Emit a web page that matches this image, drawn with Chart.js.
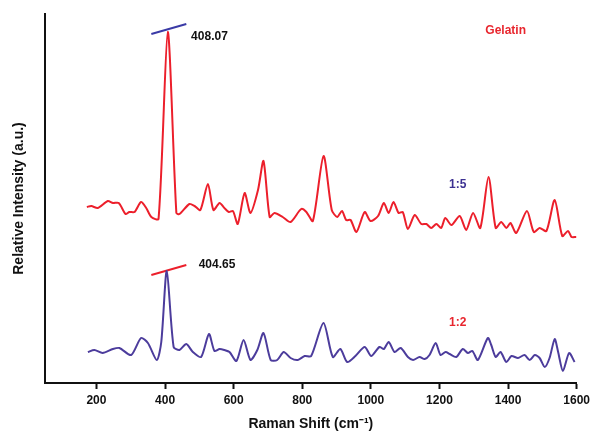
<!DOCTYPE html>
<html>
<head>
<meta charset="utf-8">
<script src="https://cdn.jsdelivr.net/npm/chart.js@4/dist/chart.umd.min.js"></script>
<style>
  html, body { margin: 0; padding: 0; background: #fff; }
  #wrap { width: 594px; height: 439px; }
</style>
</head>
<body>
<div id="wrap"><canvas id="raman"></canvas></div>
<script>
// Raman shift (cm-1) and relative intensity (a.u.)
const gelatinShift = [172, 185, 204, 233, 248, 265, 285, 296, 311, 330, 345, 360, 381, 408, 433, 442, 471, 486, 503, 525, 541, 559, 573, 586, 598, 612, 632, 649, 671, 687, 705, 719, 743, 766, 797, 812, 831, 862, 886, 902, 916, 928, 941, 958, 982, 999, 1021, 1038, 1052, 1066, 1081, 1093, 1108, 1128, 1147, 1162, 1176, 1191, 1205, 1217, 1235, 1259, 1278, 1298, 1319, 1343, 1364, 1380, 1395, 1407, 1424, 1455, 1475, 1492, 1512, 1536, 1558, 1575, 1585, 1599];
const gelatinIntensity = [176, 177, 175, 182, 180, 180, 169, 171, 171, 181, 175, 166, 164, 351, 170, 169, 179, 177, 173, 199, 173, 180, 175, 171, 172, 159, 190, 170, 193, 222, 166, 170, 166, 161, 174, 171, 162, 227, 173, 166, 172, 163, 163, 151, 171, 162, 167, 180, 170, 181, 170, 171, 154, 168, 159, 159, 155, 159, 155, 165, 158, 167, 153, 170, 155, 206, 155, 161, 155, 160, 150, 172, 151, 155, 152, 183, 147, 152, 146, 146];

const mixShift = [175, 194, 218, 248, 267, 301, 330, 350, 376, 389, 405, 425, 442, 462, 481, 505, 528, 544, 559, 573, 588, 608, 629, 649, 669, 687, 708, 727, 746, 766, 787, 807, 826, 862, 889, 911, 931, 955, 982, 1001, 1025, 1038, 1052, 1069, 1087, 1108, 1123, 1142, 1157, 1171, 1189, 1203, 1218, 1230, 1249, 1268, 1283, 1296, 1312, 1341, 1351, 1364, 1378, 1395, 1410, 1429, 1448, 1463, 1478, 1492, 1507, 1521, 1536, 1546, 1560, 1578, 1594];
const mixIntensity = [31, 33, 30, 34, 35, 28, 45, 40, 23, 41, 112, 36, 33, 39, 31, 26, 49, 32, 34, 33, 31, 22, 43, 23, 33, 50, 23, 23, 31, 25, 23, 27, 27, 60, 26, 34, 21, 27, 36, 27, 36, 34, 41, 31, 35, 26, 23, 26, 24, 28, 40, 28, 31, 29, 26, 34, 30, 32, 23, 45, 38, 26, 31, 21, 27, 25, 28, 23, 28, 25, 16, 25, 44, 31, 12, 30, 21];

const xTicks = [200, 400, 600, 800, 1000, 1200, 1400, 1600];

// peak markers: [x1, y1, x2, y2] and labels
const peakMark1 = [360, 349, 462, 359];
const peakMark2 = [360, 108, 462, 118];
const labels = [
  {text: '408.07', x: 476, y: 346, color: '#111', align: 'left'},
  {text: '404.65', x: 498, y: 118, color: '#111', align: 'left'},
  {text: 'Gelatin', x: 1393, y: 352, color: '#e8262e', align: 'center'},
  {text: '1:5', x: 1253, y: 198, color: '#3d3192', align: 'center'},
  {text: '1:2', x: 1253, y: 60, color: '#e8262e', align: 'center'}
];

const RED = '#ec1f2b';
const BLUE = '#4c3c9c';

function toPoints(xs, ys) {
    return xs.map((x, i) => ({x: x, y: ys[i]}));
}

const notes = {
    id: 'notes',
    afterDatasetsDraw(chart) {
        const ctx = chart.ctx;
        const xs = chart.scales.x, ys = chart.scales.y;
        ctx.save();
        ctx.font = 'bold 12px "Liberation Sans", Arial, sans-serif';
        ctx.textBaseline = 'middle';
        labels.forEach(l => {
            ctx.fillStyle = l.color;
            ctx.textAlign = l.align;
            ctx.fillText(l.text, xs.getPixelForValue(l.x), ys.getPixelForValue(l.y));
        });
        ctx.restore();
    }
};

new Chart(document.getElementById('raman'), {
    type: 'line',
    data: {
        datasets: [
            {
                label: 'Gelatin 1:5',
                data: toPoints(gelatinShift, gelatinIntensity),
                borderColor: RED,
                borderWidth: 2,
                pointRadius: 0,
                tension: 0.25,
                fill: false
            },
            {
                label: 'Gelatin 1:2',
                data: toPoints(mixShift, mixIntensity),
                borderColor: BLUE,
                borderWidth: 2,
                pointRadius: 0,
                tension: 0.25,
                fill: false
            },
            {
                label: 'mark 408.07',
                data: [{x: peakMark1[0], y: peakMark1[1]}, {x: peakMark1[2], y: peakMark1[3]}],
                borderColor: '#3a3aa6',
                borderWidth: 2,
                pointRadius: 0
            },
            {
                label: 'mark 404.65',
                data: [{x: peakMark2[0], y: peakMark2[1]}, {x: peakMark2[2], y: peakMark2[3]}],
                borderColor: RED,
                borderWidth: 2,
                pointRadius: 0
            }
        ]
    },
    options: {
        responsive: true,
        maintainAspectRatio: false,
        animation: false,
        layout: {padding: {top: 14, right: 17, left: 0, bottom: 0}},
        plugins: {
            legend: {display: false},
            tooltip: {enabled: false}
        },
        scales: {
            x: {
                type: 'linear',
                min: 50,
                max: 1600,
                afterBuildTicks: axis => { axis.ticks = xTicks.map(v => ({value: v})); },
                afterFit: axis => { axis.height = 56; },
                grid: {
                    drawOnChartArea: false,
                    drawTicks: true,
                    tickLength: 6,
                    tickWidth: 2,
                    tickColor: '#111'
                },
                border: {color: '#111', width: 2},
                ticks: {
                    color: '#111',
                    padding: 4,
                    maxRotation: 0,
                    callback: v => String(v),
                    font: {family: '"Liberation Sans", Arial, sans-serif', size: 12, weight: 'bold'}
                },
                title: {
                    display: true,
                    text: 'Raman Shift (cm⁻¹)',
                    color: '#111',
                    padding: {top: 0, bottom: 6},
                    font: {family: '"Liberation Sans", Arial, sans-serif', size: 14, weight: 'bold'}
                }
            },
            y: {
                min: 0,
                max: 369,
                afterFit: axis => { axis.width = 45; },
                grid: {display: false, drawTicks: false},
                border: {color: '#111', width: 2},
                ticks: {display: false},
                title: {
                    display: true,
                    text: 'Relative Intensity (a.u.)',
                    color: '#111',
                    padding: {top: 11, bottom: 0},
                    font: {family: '"Liberation Sans", Arial, sans-serif', size: 14, weight: 'bold'}
                }
            }
        }
    },
    plugins: [notes]
});
</script>
</body>
</html>
